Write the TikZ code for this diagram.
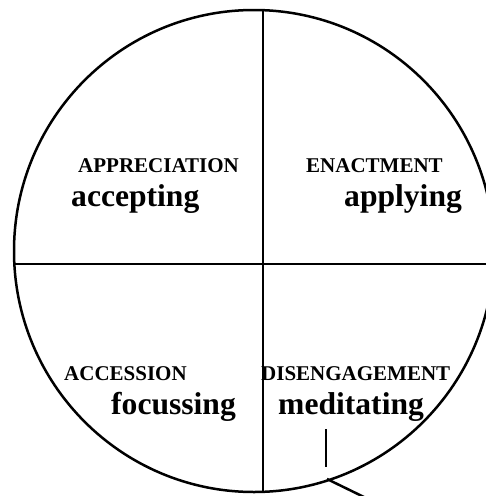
\documentclass[tikz,border=0pt]{standalone}
\usepackage{fontspec}
\setmainfont{Liberation Serif}
\begin{document}
\begin{tikzpicture}[x=1pt,y=-1pt,
  rim/.style={line width=2.5pt, black},
  caption/.style={anchor=base west, inner sep=0pt, font=\fontsize{21}{25}\selectfont\bfseries},
  verb/.style={anchor=base west, inner sep=0pt, font=\fontsize{31.6}{36}\selectfont\bfseries}]
\useasboundingbox (0,0) rectangle (486,496);
% circle (slightly elliptical, cropped at right)
\draw[rim] (254,251) ellipse [x radius=240, y radius=241];
% quadrant dividers
\coordinate (top) at (263,10.2);
\coordinate (bottom) at (263,491.8);
\coordinate (left) at (14.3,264);
\coordinate (right) at (494,264);
\draw[rim] (top) -- (bottom);
\draw[rim] (left) -- (right);
% labels
\node[caption] (appr) at (78,172) {APPRECIATION};
\node[verb] (acc) at (71,206) {accepting};
\node[caption] (enact) at (306,172) {ENACTMENT};
\node[verb] (appl) at (344,206) {applying};
\node[caption] (accs) at (64,380) {ACCESSION};
\node[verb] (foc) at (111,414) {focussing};
\node[caption] (dis) at (261,380) {DISENGAGEMENT};
\node[verb] (med) at (278,414) {meditating};
% pointer
\coordinate (p1) at (326,429);
\coordinate (p2) at (326,467);
\coordinate (q1) at (327,479);
\coordinate (q2) at (366,498);
\draw[rim] (p1) -- (p2);
\draw[rim] (q1) -- (q2);
\end{tikzpicture}
\end{document}
